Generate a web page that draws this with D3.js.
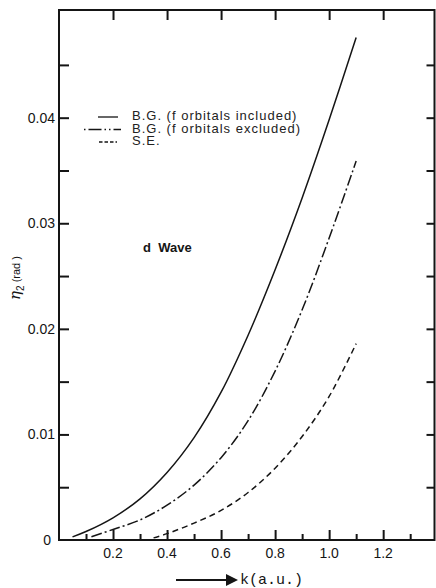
<!DOCTYPE html>
<html>
<head>
<meta charset="utf-8">
<script src="https://cdn.jsdelivr.net/npm/d3@7"></script>
<style>
  body { margin: 0; background: #fff; }
  svg { display: block; font-family: "Liberation Sans", Arial, sans-serif; }
</style>
</head>
<body>
<svg id="chart" width="436" height="588"></svg>
<script>
// k values (a.u.) and phase shifts eta_2 (rad)
var k_included = [0.05, 0.1, 0.2, 0.3, 0.4, 0.5, 0.6, 0.7, 0.8, 0.9, 1.0, 1.1];
var eta_included = [0.0003, 0.0008, 0.0021, 0.0039, 0.0064, 0.0097, 0.0140, 0.0194, 0.0256, 0.0324, 0.0398, 0.0476];

var k_excluded = [0.12, 0.2, 0.3, 0.4, 0.5, 0.6, 0.7, 0.8, 0.9, 1.0, 1.1];
var eta_excluded = [0.0003, 0.0010, 0.0019, 0.0033, 0.0052, 0.0078, 0.0113, 0.0160, 0.0218, 0.0286, 0.0359];

var k_se = [0.35, 0.4, 0.5, 0.6, 0.7, 0.8, 0.9, 1.0, 1.1];
var eta_se = [0.0002, 0.0006, 0.0016, 0.0028, 0.0045, 0.0068, 0.0098, 0.0136, 0.0186];

var legend_labels = ["B.G. (f orbitals included)", "B.G. (f orbitals excluded)", "S.E."];
var x_ticks_major = [0.2, 0.4, 0.6, 0.8, 1.0, 1.2];
var x_ticks_minor = [0.1, 0.3, 0.5, 0.7, 0.9, 1.1, 1.3];
var y_ticks_major = [0, 0.01, 0.02, 0.03, 0.04];
var y_ticks_all = [0.005, 0.01, 0.015, 0.02, 0.025, 0.03, 0.035, 0.04, 0.045];

var svg = d3.select("#chart");
// (don't call these top/left globally - window.top is read only)
var box = {left: 59, right: 434.5, top: 10, bottom: 540};

var x = d3.scaleLinear().domain([0, 1.39]).range([box.left, box.right]);
var y = d3.scaleLinear().domain([0, 0.0502]).range([box.bottom, box.top]);

var ink = "#151515";

// frame
svg.append("rect")
    .attr("x", box.left).attr("y", box.top)
    .attr("width", box.right - box.left).attr("height", box.bottom - box.top)
    .attr("fill", "none").attr("stroke", ink).attr("stroke-width", 2);

// bottom axis: ticks pointing in
var xAxisBottom = svg.append("g").attr("transform", `translate(0,${box.bottom})`);
xAxisBottom.call(d3.axisTop(x).tickValues(x_ticks_major).tickSize(10).tickFormat(""));
xAxisBottom.append("g").call(d3.axisTop(x).tickValues(x_ticks_minor).tickSize(6).tickFormat(""));
xAxisBottom.selectAll("path.domain").remove();
xAxisBottom.selectAll("line").attr("stroke", ink).attr("stroke-width", 2);

svg.append("g").selectAll("text").data(x_ticks_major).enter().append("text")
    .attr("x", d => x(d)).attr("y", 558)
    .attr("text-anchor", "middle").attr("font-size", 14).attr("fill", ink)
    .text(d => d3.format(".1f")(d));

// top axis: major ticks only
var xAxisTop = svg.append("g").attr("transform", `translate(0,${box.top})`)
    .call(d3.axisBottom(x).tickValues(x_ticks_major).tickSize(10).tickFormat(""));
xAxisTop.select("path.domain").remove();
xAxisTop.selectAll("line").attr("stroke", ink).attr("stroke-width", 2);

// left axis
var yAxisLeft = svg.append("g").attr("transform", `translate(${box.left},0)`)
    .call(d3.axisRight(y).tickValues(y_ticks_all).tickSize(10).tickFormat(""));
yAxisLeft.select("path.domain").remove();
yAxisLeft.selectAll("line").attr("stroke", ink).attr("stroke-width", 2);

svg.append("g").selectAll("text").data(y_ticks_major).enter().append("text")
    .attr("x", d => d == 0 ? 51 : 55).attr("y", d => y(d) + 5)
    .attr("text-anchor", "end").attr("font-size", 14).attr("fill", ink)
    .text(d => d == 0 ? "0" : d3.format(".2f")(d));

// right axis
var yAxisRight = svg.append("g").attr("transform", `translate(${box.right},0)`)
    .call(d3.axisLeft(y).tickValues(y_ticks_all).tickSize(8).tickFormat(""));
yAxisRight.select("path.domain").remove();
yAxisRight.selectAll("line").attr("stroke", ink).attr("stroke-width", 2);

// curves
var line = d3.line().x(d => x(d[0])).y(d => y(d[1])).curve(d3.curveCatmullRom.alpha(0.5));

var series = [
    {k: k_included, eta: eta_included, dash: null},
    {k: k_excluded, eta: eta_excluded, dash: "11,3,2,3"},
    {k: k_se, eta: eta_se, dash: "6,4"}
];

series.forEach(function(s){
    svg.append("path")
        .datum(d3.zip(s.k, s.eta))
        .attr("d", line)
        .attr("fill", "none")
        .attr("stroke", ink)
        .attr("stroke-width", 1.5)
        .attr("stroke-dasharray", s.dash);
});

// legend
var legend_rows = [
    {y: 120, x1: 98, x2: 118, dash: null},
    {y: 132.5, x1: 84, x2: 121, dash: "1.5,3,13,3,1.5,3"},
    {y: 145, x1: 99, x2: 117, dash: "3.5,2"}
];
legend_rows.forEach(function(r, i){
    svg.append("line")
        .attr("x1", r.x1).attr("x2", r.x2)
        .attr("y1", r.y - 3).attr("y2", r.y - 3)
        .attr("stroke", ink).attr("stroke-width", 1.3)
        .attr("stroke-dasharray", r.dash);
    svg.append("text")
        .attr("x", 132).attr("y", r.y)
        .attr("font-size", 13).attr("letter-spacing", 1).attr("fill", "#222")
        .text(legend_labels[i]);
});

// d Wave annotation
svg.append("text")
    .attr("x", 143).attr("y", 252)
    .attr("font-size", 13).attr("font-weight", "bold").attr("fill", ink)
    .attr("xml:space", "preserve")
    .text("d  Wave");

// y axis title
var ytitle = svg.append("text")
    .attr("transform", "translate(20,278) rotate(-90)")
    .attr("text-anchor", "middle").attr("fill", ink);
ytitle.append("tspan").attr("font-size", 15).attr("font-family", "DejaVu Serif, serif").attr("font-style", "italic").text("η");
ytitle.append("tspan").attr("font-size", 10).attr("dy", 4).text("2");
ytitle.append("tspan").attr("font-size", 11).attr("dy", -4).attr("dx", 3).text("(rad )");

// x axis title with arrow
svg.append("line")
    .attr("x1", 176).attr("x2", 228)
    .attr("y1", 580).attr("y2", 580)
    .attr("stroke", ink).attr("stroke-width", 2);
svg.append("path")
    .attr("d", d3.line()([[226, 574], [238, 580], [226, 586]]))
    .attr("fill", ink);
svg.append("text")
    .attr("x", 240).attr("y", 584)
    .attr("font-size", 15).attr("font-family", "Liberation Mono, Courier New, monospace")
    .attr("fill", ink)
    .text("k(a.u.)");
</script>
</body>
</html>
